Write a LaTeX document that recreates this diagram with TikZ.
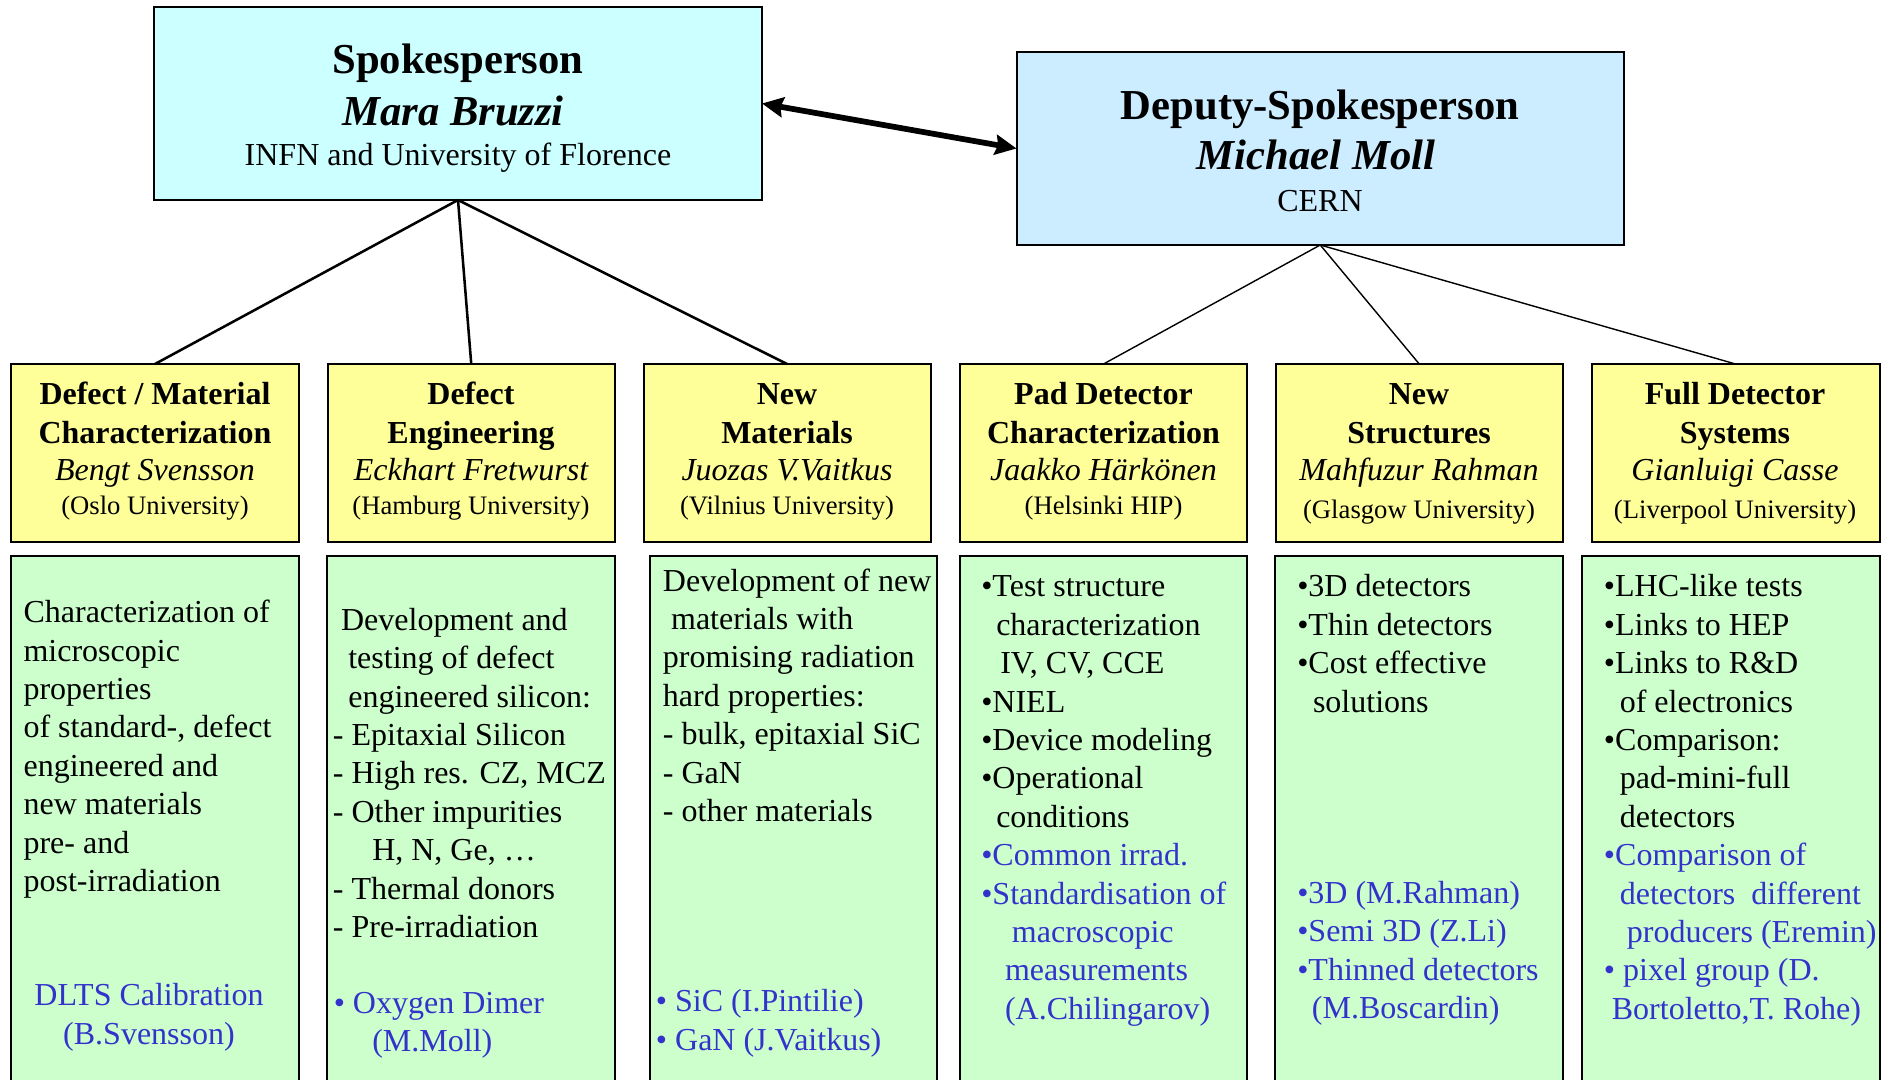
\documentclass[tikz,border=0pt]{standalone}
\usepackage{fontspec}
\setmainfont{Liberation Serif}
\usetikzlibrary{arrows.meta,fit}
\definecolor{spfill}{HTML}{CCFFFF}
\definecolor{depfill}{HTML}{CCECFF}
\definecolor{yfill}{HTML}{FFFF99}
\definecolor{gfill}{HTML}{CCFFCC}
\definecolor{bluetxt}{HTML}{3333CC}
\newcommand\fTitle{\fontsize{32}{38.4}\selectfont}
\newcommand\fMain{\fontsize{24}{28.8}\selectfont}
\newcommand\fSmall{\fontsize{20}{24}\selectfont}
\newcommand\ind[1]{\hspace*{#1pt}}
\newcommand\ylab[7]{%
  \node[ttl] (#1-a) at (#2,404.3) {#3};
  \node[ttl] (#1-b) at (#2,443.3) {#4};
  \node[nml] (#1-c) at (#2,480.7) {#5};
  \node[unil] (#1-d) at (#2,#7) {#6};
}
\begin{document}
\begin{tikzpicture}[x=0.75pt,y=-0.75pt,
  box/.style={draw=black, line width=1.5pt, inner sep=0pt, outer sep=0pt},
  topbox/.style={box, fill=#1},
  ybox/.style={box, fill=yfill},
  gbox/.style={box, fill=gfill},
  tl/.style={inner sep=0pt, anchor=base},
  ttl/.style={tl, font=\fMain\bfseries},
  nml/.style={tl, font=\fMain\itshape},
  unil/.style={tl, font=\fSmall},
  gt/.style={inner sep=0pt, anchor=base west, font=\fMain},
  gtb/.style={gt, text=bluetxt},
  lthick/.style={line width=1.9pt},
  lthin/.style={line width=1.05pt},
  dbl/.style={line width=4.3pt, {Stealth[length=16pt,width=15pt,inset=2pt]}-{Stealth[length=16pt,width=15pt,inset=2pt]}}
]
\clip (0,0) rectangle (1883,1080);

% top boxes
\node[topbox=spfill, fit={(154,7) (762,200)}] (sp) {};
\node[topbox=depfill, fit={(1016.5,52) (1624,245)}] (dep) {};

% yellow boxes
\node[ybox, fit={(11,364) (299,542)}] (y1) {};
\node[ybox, fit={(327.5,364) (615,542)}] (y2) {};
\node[ybox, fit={(643.5,364) (930.5,542)}] (y3) {};
\node[ybox, fit={(960,364) (1247,542)}] (y4) {};
\node[ybox, fit={(1275.5,364) (1563,542)}] (y5) {};
\node[ybox, fit={(1591.5,364) (1879.5,542)}] (y6) {};

% green boxes
\node[gbox, fit={(11,556) (299,1095)}] (g1) {};
\node[gbox, fit={(327,556) (615,1095)}] (g2) {};
\node[gbox, fit={(649.5,556) (937,1095)}] (g3) {};
\node[gbox, fit={(959.5,556) (1246.5,1095)}] (g4) {};
\node[gbox, fit={(1275,556) (1562.5,1095)}] (g5) {};
\node[gbox, fit={(1582,556) (1879.5,1095)}] (g6) {};

% connectors
\draw[dbl] (sp.east) -- (dep.west);
\draw[lthick] (sp.south) -- (y1.north);
\draw[lthick] (sp.south) -- (y2.north);
\draw[lthick] (sp.south) -- (y3.north);
\draw[lthin] (dep.south) -- (y4.north);
\draw[lthin] (dep.south) -- (y5.north);
\draw[lthin] (dep.south) -- (y6.north);

% top texts
\node[tl, font=\fTitle\bfseries] (sp-a) at (458,74) {Spokesperson};
\node[tl, font=\fTitle\bfseries\itshape] (sp-b) at (453,126) {Mara Bruzzi};
\node[tl, font=\fMain] (sp-c) at (458,165.7) {INFN and University of Florence};
\node[tl, font=\fTitle\bfseries] (dep-a) at (1320,119.3) {Deputy-Spokesperson};
\node[tl, font=\fTitle\bfseries\itshape] (dep-b) at (1316,170) {Michael Moll};
\node[tl, font=\fMain] (dep-c) at (1320,211.7) {CERN};

% yellow texts
\ylab{y1t}{155}{Defect / Material}{Characterization}{Bengt Svensson}{(Oslo University)}{514.3}
\ylab{y2t}{471}{Defect}{Engineering}{Eckhart Fretwurst}{(Hamburg University)}{514.3}
\ylab{y3t}{787}{New}{Materials}{Juozas V.Vaitkus}{(Vilnius University)}{514.3}
\ylab{y4t}{1103.5}{Pad Detector}{Characterization}{Jaakko Härkönen}{(Helsinki HIP)}{514.3}
\ylab{y5t}{1419}{New}{Structures}{Mahfuzur Rahman}{(Glasgow University)}{518}
\ylab{y6t}{1735}{Full Detector}{Systems}{Gianluigi Casse}{(Liverpool University)}{518}

% green texts
\node[gt] (g1t) at (23.3,622.6) {\begin{tabular}[t]{@{}l@{}}Characterization of\\ microscopic\\ properties\\ of standard-, defect\\ engineered and\\ new materials\\ pre- and\\ post-irradiation\end{tabular}};
\node[tl, font=\fMain, text=bluetxt] (g1b) at (149,1005.6) {\begin{tabular}[t]{@{}c@{}}DLTS Calibration\\ (B.Svensson)\end{tabular}};

\node[gt] (g2t) at (332.7,630.2) {\begin{tabular}[t]{@{}l@{}}\ind{6.1}Development and\\ \ind{11.5}testing of defect\\ \ind{11.5}engineered silicon:\\ - Epitaxial Silicon\\ - High res. CZ, MCZ\\ - Other impurities\\ \ind{29.5}H, N, Ge, …\\ - Thermal donors\\ - Pre-irradiation\end{tabular}};
\node[gtb] (g2b) at (333.5,1013.5) {\begin{tabular}[t]{@{}l@{}}• Oxygen Dimer\\ \ind{28.9}(M.Moll)\end{tabular}};

\node[gt] (g3t) at (662.7,591) {\begin{tabular}[t]{@{}l@{}}Development of new\\ \ind{6.1}materials with\\ promising radiation\\ hard properties:\\ - bulk, epitaxial SiC\\ - GaN\\ - other materials\end{tabular}};
\node[gtb] (g3b) at (655.7,1011.8) {\begin{tabular}[t]{@{}l@{}}• SiC (I.Pintilie)\\ • GaN (J.Vaitkus)\end{tabular}};

\node[gt] (g4t) at (981,596.8) {\begin{tabular}[t]{@{}l@{}}•Test structure\\ \ind{11.25}characterization\\ \ind{14.25}IV, CV, CCE\\ •NIEL\\ •Device modeling\\ •Operational\\ \ind{11.25}conditions\end{tabular}};
\node[gtb] (g4b) at (981,865.6) {\begin{tabular}[t]{@{}l@{}}•Common irrad.\\ •Standardisation of\\ \ind{23}macroscopic\\ \ind{17.8}measurements\\ \ind{17.8}(A.Chilingarov)\end{tabular}};

\node[gt] (g5t) at (1297,596.8) {\begin{tabular}[t]{@{}l@{}}•3D detectors\\ •Thin detectors\\ •Cost effective\\ \ind{11.8}solutions\end{tabular}};
\node[gtb] (g5b) at (1297,903.3) {\begin{tabular}[t]{@{}l@{}}•3D (M.Rahman)\\ •Semi 3D (Z.Li)\\ •Thinned detectors\\ \ind{11}(M.Boscardin)\end{tabular}};

\node[gt] (g6t) at (1603.7,596.8) {\begin{tabular}[t]{@{}l@{}}•LHC-like tests\\ •Links to HEP\\ •Links to R\&D\\ \ind{11.9}of electronics\\ •Comparison:\\ \ind{11.9}pad-mini-full\\ \ind{11.9}detectors\end{tabular}};
\node[gtb] (g6b) at (1603.7,865.6) {\begin{tabular}[t]{@{}l@{}}•Comparison of\\ \ind{11.9}detectors\ \ different\\ \ind{17.2}producers (Eremin)\\ • pixel group (D.\\ \ind{5.9}Bortoletto,T. Rohe)\end{tabular}};
\end{tikzpicture}
\end{document}
